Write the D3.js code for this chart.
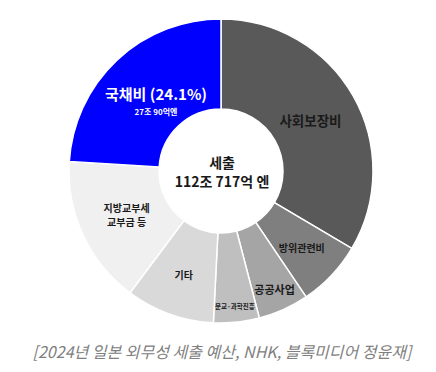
<!DOCTYPE html>
<html><head><meta charset="utf-8">
<script src="https://cdn.jsdelivr.net/npm/d3@7/dist/d3.min.js"></script>
<style>body{margin:0;background:#fff}svg{display:block}text{font-family:"Noto Sans CJK KR","Noto Sans",sans-serif}</style>
</head><body><svg id="c" width="436" height="372"></svg>
<script>
const categories = ["사회보장비","방위관련비","공공사업","문교·과학진흥","기타","지방교부세 교부금 등","국채비"];
const values = [37.72, 7.92, 6.08, 5.47, 10.59, 17.79, 27.01];
const colors = ["#595959","#7f7f7f","#a5a5a5","#bfbfbf","#d9d9d9","#f0f0f0","#0000ff"];
const labelLines = [["사회보장비"],["방위관련비"],["공공사업"],["문교·과학진흥"],["기타"],["지방교부세","교부금 등"],["국채비 (24.1%)"]];
const labelSizes = [13.5,10,11,6.5,10,10,15];
const labelRadius = [103,111,130,136,110,104,95];
const subLabel = "27조 90억엔";
const centerLines = ["세출","112조 717억 엔"];
const caption = "[2024년 일본 외무성 세출 예산, NHK, 블록미디어 정윤재]";

const svg = d3.select("#c");
const cx = 221, cy = 171, R = 152, r0 = 62;
const g = svg.append("g").attr("transform",`translate(${cx},${cy})`);
const data = categories.map((c,i)=>({c,v:values[i],i}));
const pie = d3.pie().value(d=>d.v).sort(null);
const arcs = pie(data);
const arc = d3.arc().innerRadius(r0).outerRadius(R);
g.selectAll("path").data(arcs).join("path")
  .attr("d",arc).attr("fill",d=>colors[d.data.i])
  .attr("stroke","#fff").attr("stroke-width",1.5);

arcs.forEach(a=>{
  const i=a.data.i;
  const la = d3.arc().innerRadius(labelRadius[i]).outerRadius(labelRadius[i]);
  const [x,y] = la.centroid(a);
  const lines = labelLines[i];
  const fs = labelSizes[i];
  const isBlue = i===6;
  const lh = fs*1.4;
  const total = isBlue ? 0 : (lines.length-1)*lh;
  lines.forEach((t,k)=>{
    g.append("text").attr("x",x).attr("y",y - total/2 + k*lh + (isBlue? -8:0))
      .attr("text-anchor","middle").attr("dominant-baseline","central")
      .attr("font-size",fs).attr("font-weight",700)
      .attr("fill",isBlue?"#fff":"#1a1a1a").text(t);
  });
  if(isBlue){
    g.append("text").attr("x",x).attr("y",y+10)
      .attr("text-anchor","middle").attr("dominant-baseline","central")
      .attr("font-size",8).attr("font-weight",700).attr("fill","#fff").text(subLabel);
  }
});

centerLines.forEach((t,k)=>{
  g.append("text").attr("x",1).attr("y",-9+k*19)
    .attr("text-anchor","middle").attr("dominant-baseline","central")
    .attr("font-size",14).attr("font-weight",700).attr("fill","#1a1a1a").text(t);
});

svg.append("text").attr("x",222).attr("y",351)
  .attr("text-anchor","middle").attr("dominant-baseline","central")
  .attr("font-size",16).attr("font-style","italic").attr("fill","#808080").text(caption);
</script></body></html>
